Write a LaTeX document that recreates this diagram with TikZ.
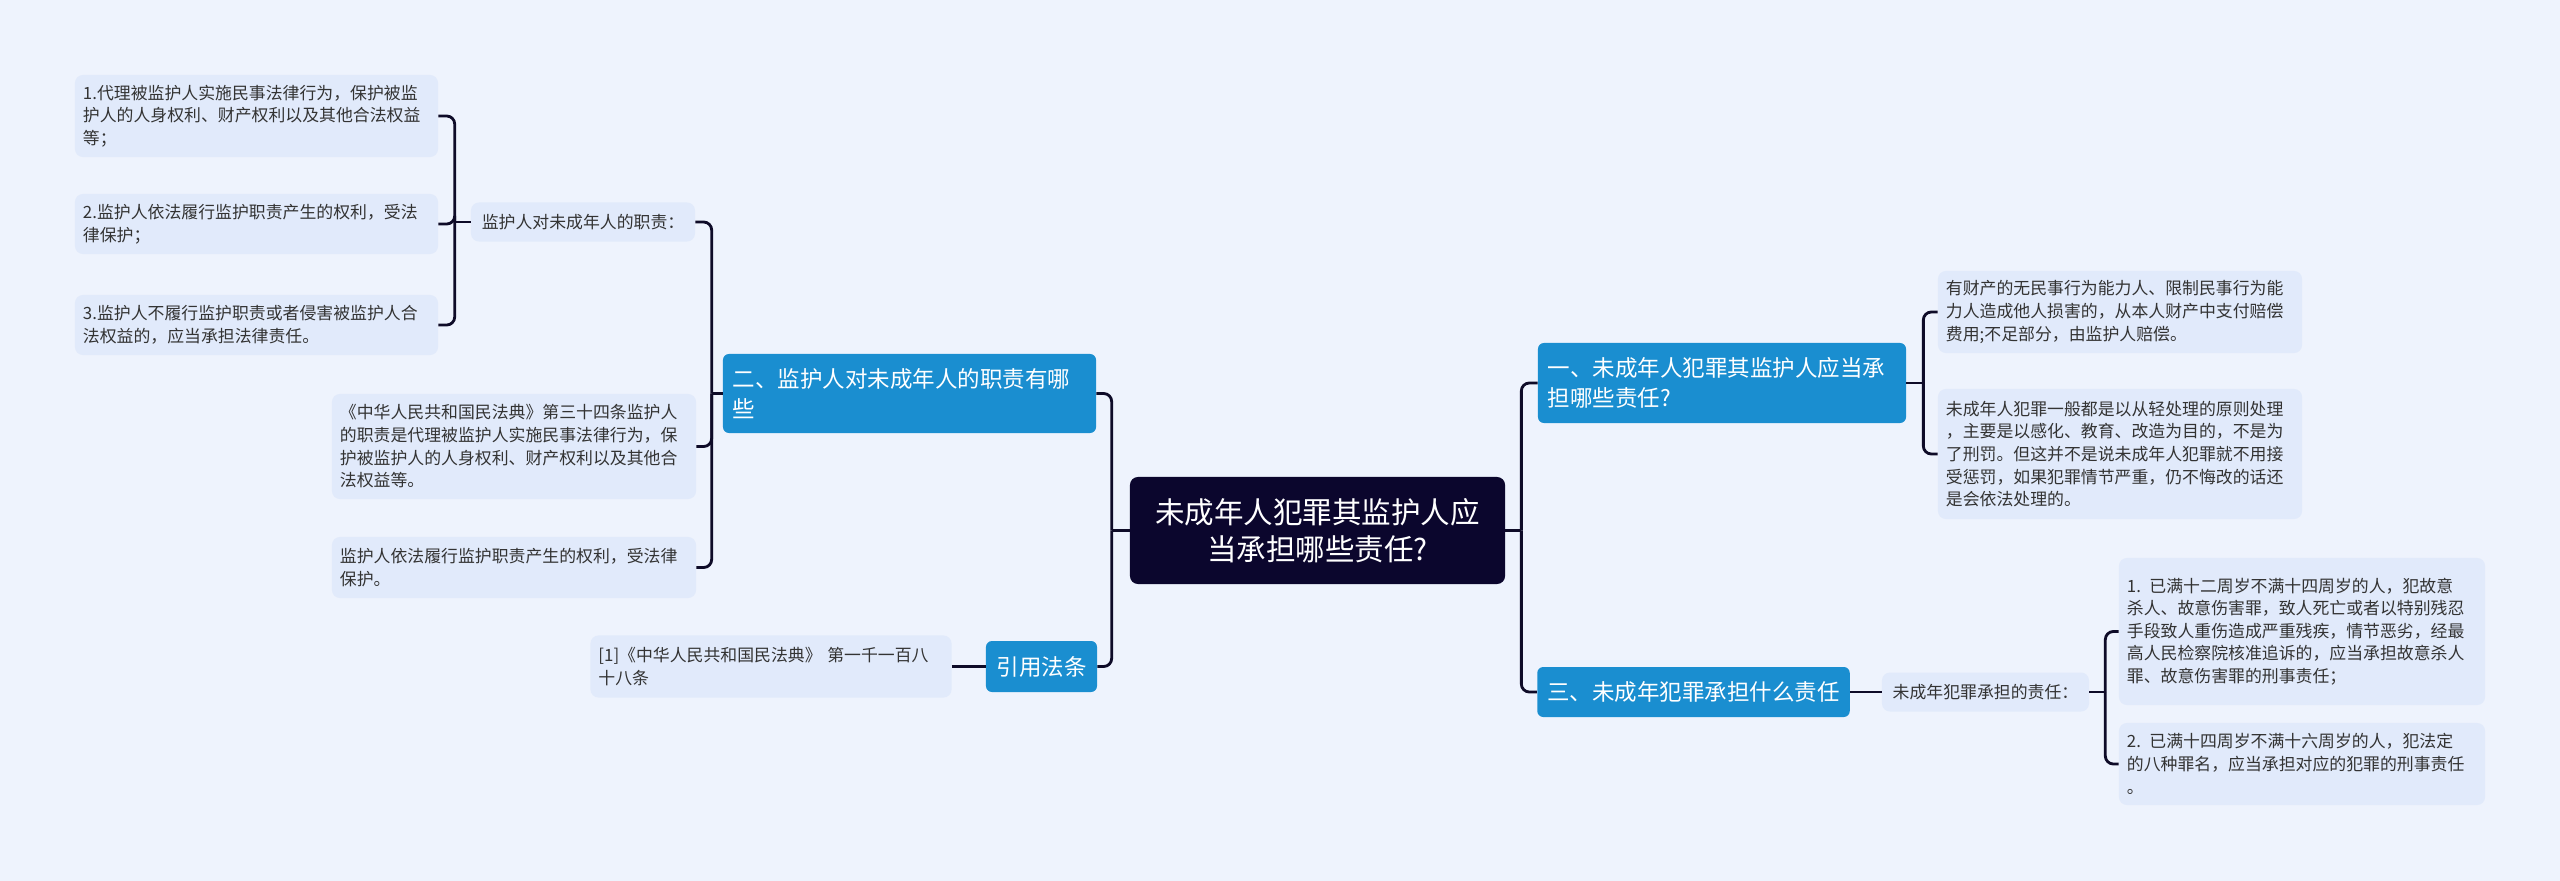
\documentclass[tikz,border=0pt]{standalone}
\usepackage{fontspec}
\setmainfont{Noto Sans CJK SC}
\usetikzlibrary{calc}
\definecolor{bgcol}{RGB}{238,243,253}
\definecolor{leafcol}{RGB}{225,234,251}
\definecolor{bluecol}{RGB}{26,142,208}
\definecolor{rootcol}{RGB}{11,6,45}
\definecolor{linecol}{RGB}{14,11,40}
\definecolor{txtcol}{RGB}{51,51,51}
\tikzset{
  rootbox/.style={fill=rootcol, text=white, rounded corners=0.2cm, align=center, minimum width=9.375cm, minimum height=2.675cm, font=\fontsize{21}{26}\selectfont},
  topicbox/.style={fill=bluecol, text=white, rounded corners=0.15cm, inner xsep=0.25cm, font=\fontsize{16}{21}\selectfont},
  leafbox/.style={fill=leafcol, text=txtcol, rounded corners=0.2cm, inner xsep=0.2cm, text width=#1, align=left, font=\fontsize{12}{16.1}\selectfont},
  tagbox/.style={fill=leafcol, text=txtcol, rounded corners=0.2cm, align=center, font=\fontsize{12}{16.1}\selectfont},
  link/.style={draw=linecol, line width=2pt, rounded corners=0.2cm},
}

\begin{document}
\begin{tikzpicture}[x=0.025cm, y=-0.025cm]
  \fill[bgcol] (0,0) rectangle (2560,881);
  \useasboundingbox (0,0) rectangle (2560,881);

  % centre
  \node[rootbox] (root) at (1317.5,530.5) {未成年人犯罪其监护人应\\当承担哪些责任?};

  % left side
  \node[topicbox, text width=8.825cm, align=left, minimum height=1.975cm] (n2) at (909.5,393.5) {二、监护人对未成年人的职责有哪\\些};
  \node[topicbox, minimum width=2.775cm, minimum height=1.275cm] (cite) at (1041.5,666.5) {引用法条};

  \node[tagbox, minimum width=5.6cm, minimum height=0.975cm] (duty) at (583,222) {监护人对未成年人的职责：};
  \node[leafbox=8.7cm, minimum height=2.625cm] (law34) at (514,446.5) {《中华人民共和国民法典》第三十四条监护人\\的职责是代理被监护人实施民事法律行为，保\\护被监护人的人身权利、财产权利以及其他合\\法权益等。};
  \node[leafbox=8.7cm, minimum height=1.525cm] (right) at (514,567.5) {监护人依法履行监护职责产生的权利，受法律\\保护。};

  \node[leafbox=8.675cm, minimum height=2.05cm] (d1) at (256.5,116) {1.代理被监护人实施民事法律行为，保护被监\\护人的人身权利、财产权利以及其他合法权益\\等；};
  \node[leafbox=8.675cm, minimum height=1.5cm] (d2) at (256.5,224) {2.监护人依法履行监护职责产生的权利，受法\\律保护；};
  \node[leafbox=8.675cm, minimum height=1.5cm] (d3) at (256.5,325) {3.监护人不履行监护职责或者侵害被监护人合\\法权益的，应当承担法律责任。};

  \node[leafbox=8.625cm, minimum height=1.55cm] (ref) at (771,666.5) {[1]《中华人民共和国民法典》 第一千一百八\\十八条};

  % right side
  \node[topicbox, text width=8.7cm, align=left, minimum height=2cm] (n1) at (1722,383) {一、未成年人犯罪其监护人应当承\\担哪些责任?};
  \node[topicbox, minimum width=7.775cm, minimum height=1.25cm] (n3) at (1693.5,692) {三、未成年犯罪承担什么责任};

  \node[leafbox=8.7cm, minimum height=2.05cm] (r1a) at (2120,312) {有财产的无民事行为能力人、限制民事行为能\\力人造成他人损害的，从本人财产中支付赔偿\\费用;不足部分，由监护人赔偿。};
  \node[leafbox=8.7cm, minimum height=3.25cm] (r1b) at (2120,454) {未成年人犯罪一般都是以从轻处理的原则处理\\，主要是以感化、教育、改造为目的，不是为\\了刑罚。但这并不是说未成年人犯罪就不用接\\受惩罚，如果犯罪情节严重，仍不悔改的话还\\是会依法处理的。};

  \node[tagbox, minimum width=5.175cm, minimum height=0.975cm] (resp) at (1985.5,692) {未成年犯罪承担的责任：};
  \node[leafbox=8.75cm, minimum height=3.675cm] (r3a) at (2302,631.5) {1. 已满十二周岁不满十四周岁的人，犯故意\\杀人、故意伤害罪，致人死亡或者以特别残忍\\手段致人重伤造成严重残疾，情节恶劣，经最\\高人民检察院核准追诉的，应当承担故意杀人\\罪、故意伤害罪的刑事责任；};
  \node[leafbox=8.75cm, minimum height=2.05cm] (r3b) at (2302,764) {2. 已满十四周岁不满十六周岁的人，犯法定\\的八种罪名，应当承担对应的犯罪的刑事责任\\。};

  % junctions
  \coordinate (jL) at ($(root.west)+(-18,0)$);
  \coordinate (jR) at ($(root.east)+(16,0)$);
  \coordinate (jB) at ($(n2.west)+(-11,0)$);
  \coordinate (jC) at ($(duty.west)+(-16,0)$);
  \coordinate (jA) at ($(n1.east)+(17,0)$);
  \coordinate (jD) at ($(resp.east)+(16,0)$);

  \draw[link] (jL) -- (root.west);
  \draw[link] (n2.east) -| (jL);
  \draw[link] (cite.east) -| (jL);

  \draw[link] (jB) -- (n2.west);
  \draw[link] (duty.east) -| (jB);
  \draw[link] (law34.east) -| (jB);
  \draw[link] (right.east) -| (jB);

  \draw[link] (jC) -- (duty.west);
  \draw[link] (d1.east) -| (jC);
  \draw[link] (d2.east) -| (jC);
  \draw[link] (d3.east) -| (jC);

  \draw[link] (ref.east) -- (cite.west);

  \draw[link] (root.east) -- (jR);
  \draw[link] (jR) |- (n1.west);
  \draw[link] (jR) |- (n3.west);

  \draw[link] (n1.east) -- (jA);
  \draw[link] (jA) |- (r1a.west);
  \draw[link] (jA) |- (r1b.west);

  \draw[link] (n3.east) -- (resp.west);
  \draw[link] (resp.east) -- (jD);
  \draw[link] (jD) |- (r3a.west);
  \draw[link] (jD) |- (r3b.west);
\end{tikzpicture}
\end{document}
